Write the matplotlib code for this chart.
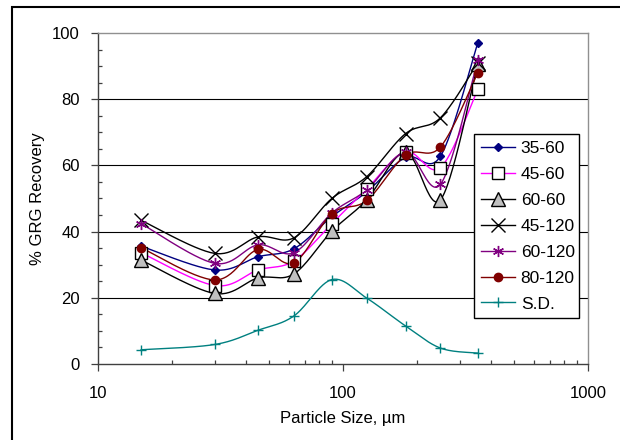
import numpy as np
import matplotlib
matplotlib.use("Agg")
import matplotlib.pyplot as plt
from matplotlib.lines import Line2D
from matplotlib.patches import Rectangle

plt.rcParams['font.family'] = ['Liberation Sans', 'DejaVu Sans']

# particle size classes (µm) and % GRG recovery per test
size = [15, 30, 45, 63, 90, 125, 180, 250, 355]

rec_35_60 = [35.6, 28.4, 32.4, 34.8, 44.5, 52.0, 62.4, 62.8, 97.0]
rec_45_60 = [33.6, 23.7, 28.4, 31.1, 42.4, 52.9, 64.1, 59.3, 83.0]
rec_60_60 = [31.4, 21.3, 26.0, 27.2, 40.1, 49.6, 64.0, 49.6, 90.5]
rec_45_120 = [43.4, 33.4, 38.4, 38.1, 50.0, 56.6, 69.6, 74.4, 91.0]
rec_60_120 = [42.4, 30.4, 36.0, 33.6, 45.6, 52.6, 64.0, 54.3, 91.7]
rec_80_120 = [35.1, 25.4, 34.6, 30.6, 45.4, 49.4, 63.1, 65.6, 88.0]
sd = [4.3, 5.9, 10.2, 14.5, 25.5, 19.9, 11.5, 4.8, 3.3]

labels = ["35-60", "45-60", "60-60", "45-120", "60-120", "80-120", "S.D."]
series = [rec_35_60, rec_45_60, rec_60_60, rec_45_120, rec_60_120, rec_80_120, sd]

# line colour, marker, marker size, marker face, marker edge
styles = [
    ("#000080", "D", 4, "#000080", "#000080"),
    ("#FF00FF", "s", 9, "white", "black"),
    ("black", "^", 10, "#C0C0C0", "black"),
    ("black", "x", 10, "black", "black"),
    ("#800080", (6, 2, 0), 8, "#800080", "#800080"),
    ("#800000", "o", 6, "#800000", "#800000"),
    ("#008080", "+", 7, "#008080", "#008080"),
]


def smooth(xs, ys, n=30):
    # Bezier smoothing of the polyline, done in log10(x) space
    px = np.log10(np.asarray(xs, float))
    py = np.asarray(ys, float)
    P = np.column_stack([px, py])
    out = []
    t = np.linspace(0, 1, n)[:, None]
    for i in range(len(P) - 1):
        p0 = P[i]
        p3 = P[i + 1]
        pm = P[i - 1] if i > 0 else P[i]
        pp = P[i + 2] if i + 2 < len(P) else P[i + 1]
        c1 = p0 + (p3 - pm) / 6.0
        c2 = p3 - (pp - p0) / 6.0
        seg = ((1 - t) ** 3) * p0 + 3 * ((1 - t) ** 2) * t * c1 + 3 * (1 - t) * t ** 2 * c2 + t ** 3 * p3
        out.append(seg if i == 0 else seg[1:])
    out = np.vstack(out)
    return 10 ** out[:, 0], out[:, 1]


fig = plt.figure(figsize=(6.2, 4.4), dpi=100)
ax = fig.add_axes([98 / 620, 1 - 364 / 440, 490 / 620, 331 / 440])

handles = []
for ys, lab, (col, mk, ms, mfc, mec) in zip(series, labels, styles):
    sx, sy = smooth(size, ys)
    ax.plot(sx, sy, color=col, lw=1.0, zorder=3)
    ax.plot(size, ys, linestyle="none", marker=mk, markersize=ms,
            markerfacecolor=mfc, markeredgecolor=mec, markeredgewidth=1.0, zorder=4)
    handles.append(Line2D([], [], color=col, lw=1.0, marker=mk, markersize=ms,
                          markerfacecolor=mfc, markeredgecolor=mec, markeredgewidth=1.0))

ax.set_xscale("log")
ax.set_xlim(10, 1000)
ax.set_ylim(0, 100)
ax.set_yticks([0, 20, 40, 60, 80, 100])
ax.set_yticks(np.arange(0, 101, 5), minor=True)
ax.set_xticks([10, 100, 1000])
ax.set_xticklabels(["10", "100", "1000"])

for y in [20, 40, 60, 80]:
    ax.axhline(y, color="black", lw=0.8, zorder=1)

ax.tick_params(axis="both", which="major", direction="out", length=5, width=0.9,
               labelsize=12, color="#404040")
ax.tick_params(axis="x", which="major", pad=11)
ax.tick_params(axis="y", which="major", pad=8)
ax.tick_params(axis="both", which="minor", direction="in", length=3, width=0.9, color="#404040")
ax.yaxis.set_minor_formatter(plt.NullFormatter())
ax.xaxis.set_minor_formatter(plt.NullFormatter())

for s in ["left", "bottom"]:
    ax.spines[s].set_color("#404040")
    ax.spines[s].set_linewidth(1.0)
for s in ["top", "right"]:
    ax.spines[s].set_color("#909090")
    ax.spines[s].set_linewidth(1.0)

ax.set_xlabel("Particle Size, µm", fontsize=12, labelpad=7)
ax.set_ylabel("% GRG Recovery", fontsize=12, labelpad=5)

leg = ax.legend(handles, labels, loc="upper left",
                bbox_to_anchor=(0.767, 0.136, 0.215, 0.559), mode="expand",
                fontsize=12.5, frameon=True, fancybox=False, framealpha=1,
                edgecolor="black", handlelength=2.0, handletextpad=0.3,
                labelspacing=0.62, borderpad=0.4, borderaxespad=0)
leg.get_frame().set_linewidth(1.0)
leg.set_zorder(5)

# outer border of the chart area
fig.patches.append(Rectangle((12 / 620, -0.1), 1.2, 1 - 7 / 440 + 0.1,
                             transform=fig.transFigure, fill=False,
                             edgecolor="black", lw=1.5))

fig.savefig("out.png", dpi=100)
